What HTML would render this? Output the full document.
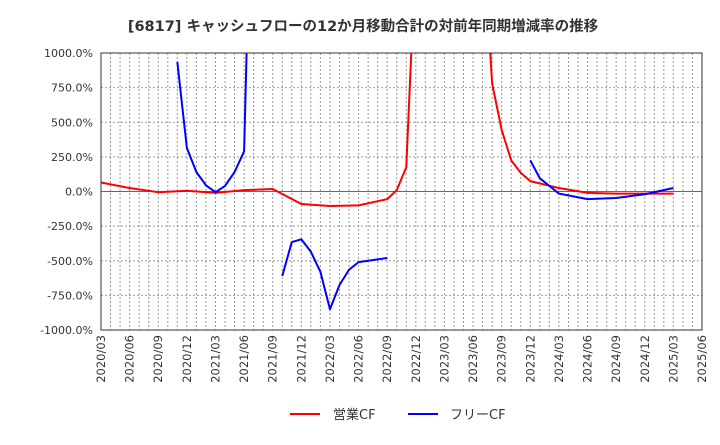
<!DOCTYPE html>
<html><head><meta charset="utf-8">
<style>
body{margin:0;background:#fff;}
svg text{font-family:"DejaVu Sans","Noto Sans CJK JP",sans-serif;}
</style></head>
<body>
<svg id="chart" width="720" height="440" xmlns="http://www.w3.org/2000/svg">
<defs><clipPath id="plotclip"><rect x="101" y="53" width="601" height="277"/></clipPath></defs>
<text x="363" y="31" text-anchor="middle" font-size="14.5" font-weight="bold" fill="#333">[6817]  キャッシュフローの12か月移動合計の対前年同期増減率の推移</text>
<g id="grid"></g>
<g id="axes"></g>
<g id="series" clip-path="url(#plotclip)"></g>
<rect x="101" y="53" width="601" height="277" fill="none" stroke="#333" stroke-width="1"/>
<g>
<line x1="290" y1="414" x2="320" y2="414" stroke="#f00" stroke-width="2"/>
<text x="333" y="419" font-size="13" fill="#333">営業CF</text>
<line x1="408" y1="414" x2="438" y2="414" stroke="#00f" stroke-width="2"/>
<text x="450" y="419" font-size="13" fill="#333">フリーCF</text>
</g>
</svg>
<script>
const xTickLabels=["2020/03","2020/06","2020/09","2020/12","2021/03","2021/06","2021/09","2021/12","2022/03","2022/06","2022/09","2022/12","2023/03","2023/06","2023/09","2023/12","2024/03","2024/06","2024/09","2024/12","2025/03","2025/06"];
const yTicks=[1000,750,500,250,0,-250,-500,-750,-1000];
// months since 2020/03
const eigyoMonths=[0,3,6,9,12,15,18,21,24,27,30,31,32,33,36,40,41,42,43,44,45,48,51,54,57,60];
const eigyoValues=[65,25,-5,5,-10,10,18,-90,-105,-100,-55,10,175,1750,3000,1900,780,445,225,135,75,25,-10,-15,-15,-15];
const freeSeg1Months=[8,9,10,11,12,13,14,15,16];
const freeSeg1Values=[935,315,140,45,-5,40,140,290,3000];
const freeSeg2Months=[19,20,21,22,23,24,25,26,27,30];
const freeSeg2Values=[-610,-365,-345,-435,-580,-850,-675,-565,-510,-480];
const freeSeg3Months=[45,46,47,48,51,54,57,60];
const freeSeg3Values=[225,95,40,-15,-55,-47,-20,25];

const X0=101,X1=702,Y0=53,Y1=330,NM=63;
const xs=m=>X0+(X1-X0)*m/NM;
const ys=v=>Y0+(Y1-Y0)*(1000-v)/2000;
const NS="http://www.w3.org/2000/svg";
function mk(tag,attrs,parent){const e=document.createElementNS(NS,tag);for(const k in attrs)e.setAttribute(k,attrs[k]);parent.appendChild(e);return e;}
const grid=document.getElementById('grid'),axes=document.getElementById('axes'),series=document.getElementById('series');
for(let m=1;m<NM;m++){
 const l=mk('line',{x1:xs(m),x2:xs(m),y1:Y0,y2:Y1,stroke:'#999','stroke-width':1,'stroke-dasharray':'2,2'},grid);
 
 
}
yTicks.forEach(v=>{
 const y=ys(v);
 if(v!==1000&&v!==-1000){
  const l=mk('line',{x1:X0,x2:X1,y1:y,y2:y,stroke:v===0?'#666':'#999','stroke-width':1,'stroke-dasharray':v===0?'':'2,2'},grid);
  
  
 }
 const t=mk('text',{x:X0-8,y:y+4,'text-anchor':'end','font-size':11,fill:'#333'},axes);
 t.textContent=v.toFixed(1)+'%';
 
 
});
xTickLabels.forEach((s,i)=>{
 const x=xs(i*3);
 const t=mk('text',{x:0,y:0,'text-anchor':'end','font-size':11.5,fill:'#333',transform:`translate(${x+4},335) rotate(-90)`},axes);
 t.textContent=s;
 
 
});
function line(ms,vs,color,name){
 const p=mk('polyline',{points:ms.map((m,i)=>xs(m)+','+ys(vs[i])).join(' '),fill:'none',stroke:color,'stroke-width':2,'stroke-linejoin':'round'},series);
 
 
}
line(eigyoMonths,eigyoValues,'#f00','eigyo-cf-line');
line(freeSeg1Months,freeSeg1Values,'#00f','free-cf-line-1');
line(freeSeg2Months,freeSeg2Values,'#00f','free-cf-line-2');
line(freeSeg3Months,freeSeg3Values,'#00f','free-cf-line-3');
</script>
</body></html>
